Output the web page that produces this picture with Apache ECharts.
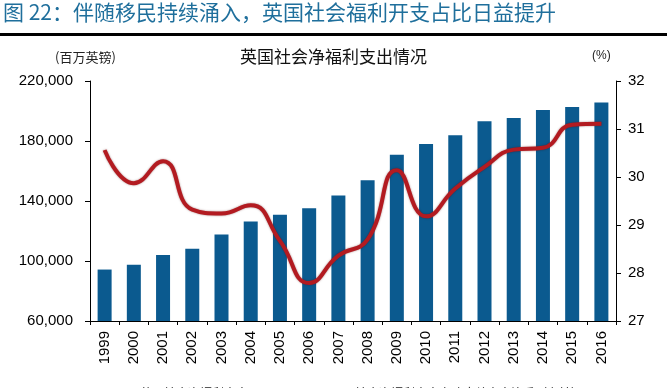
<!DOCTYPE html>
<html>
<head>
<meta charset="utf-8">
<script src="https://cdn.jsdelivr.net/npm/echarts@6/dist/echarts.min.js"></script>
<style>
html,body{margin:0;padding:0;background:#fff;}
#c{width:667px;height:388px;}
</style>
</head>
<body>
<div id="c"></div>
<script>
var years = ['1999','2000','2001','2002','2003','2004','2005','2006','2007','2008','2009','2010','2011','2012','2013','2014','2015','2016'];
var spending = [94300, 97500, 104000, 108200, 117600, 126300, 130800, 135200, 143700, 153900, 170900, 178000, 183800, 193200, 195400, 200600, 202600, 205700];
var share = [30.56, 29.87, 30.33, 29.32, 29.24, 29.41, 28.67, 27.79, 28.36, 28.70, 30.14, 29.18, 29.76, 30.21, 30.57, 30.61, 31.09, 31.11];
var leftTicks = [60000, 100000, 140000, 180000, 220000];
var rightTicks = [27, 28, 29, 30, 31, 32];
var seriesNames = ['英国社会净福利支出', '社会净福利支出占政府总支出比重（右轴）'];

var chart = echarts.init(document.getElementById('c'), null, {renderer: 'canvas'});
var fmt = function (v) { return String(v).replace(/\B(?=(\d{3})+(?!\d))/g, ','); };
chart.setOption({
  animation: false,
  backgroundColor: '#fff',
  grid: {left: 90, right: 51, top: 81, bottom: 67},
  graphic: [
    {type: 'text', left: 3, top: 2, style: {text: '图 22：伴随移民持续涌入，英国社会福利开支占比日益提升', fill: '#1f6f9c', font: '21px "Noto Sans CJK SC", sans-serif'}},
    {type: 'rect', shape: {x: 0, y: 33, width: 667, height: 3}, style: {fill: '#000'}},
    {type: 'text', left: 55, top: 51, style: {text: '(百万英镑)', fill: '#222', font: '13px "Noto Sans CJK SC", sans-serif'}},
    {type: 'text', left: 592, top: 50, style: {text: '(%)', fill: '#222', font: '12px "Liberation Sans", Arial, sans-serif'}},
    {type: 'text', left: 240, top: 48, style: {text: '英国社会净福利支出情况', fill: '#111', font: '17px "Noto Sans CJK SC", sans-serif'}}
  ],
  legend: {
    top: 382, left: 93, itemWidth: 37, itemHeight: 10, itemGap: 65,
    icon: 'rect',
    textStyle: {fontSize: 12, color: '#222', fontFamily: '"Noto Sans CJK SC", sans-serif'},
    data: seriesNames
  },
  xAxis: {
    type: 'category', data: years,
    axisLine: {lineStyle: {color: '#000', width: 1}},
    axisTick: {show: true, length: 4, lineStyle: {color: '#000'}},
    axisLabel: {rotate: 90, margin: 10, color: '#000', fontSize: 15, fontFamily: '"Liberation Sans", Arial, sans-serif'}
  },
  yAxis: [
    {
      type: 'value', min: 60000, max: 220000,
      axisLine: {show: true, lineStyle: {color: '#000'}},
      axisTick: {show: true, length: 5, lineStyle: {color: '#000'}, customValues: leftTicks},
      splitLine: {show: false},
      axisLabel: {margin: 17, color: '#000', fontSize: 15, fontFamily: '"Liberation Sans", Arial, sans-serif', formatter: fmt, customValues: leftTicks}
    },
    {
      type: 'value', min: 27, max: 32, interval: 1,
      axisLine: {show: true, lineStyle: {color: '#000'}},
      axisTick: {show: true, length: 5, lineStyle: {color: '#000'}, customValues: rightTicks},
      splitLine: {show: false},
      axisLabel: {margin: 12, color: '#000', fontSize: 15, fontFamily: '"Liberation Sans", Arial, sans-serif', customValues: rightTicks}
    }
  ],
  series: [
    {name: seriesNames[0], type: 'bar', data: spending, barWidth: 14, itemStyle: {color: '#0b5a8f'}},
    {name: seriesNames[1], type: 'line', yAxisIndex: 1, data: share, smooth: 0.5, symbol: 'none',
     lineStyle: {color: '#b31b21', width: 4, shadowColor: 'rgba(80,0,0,0.5)', shadowBlur: 2}, itemStyle: {color: '#b31b21'}}
  ]
});
</script>
</body>
</html>
